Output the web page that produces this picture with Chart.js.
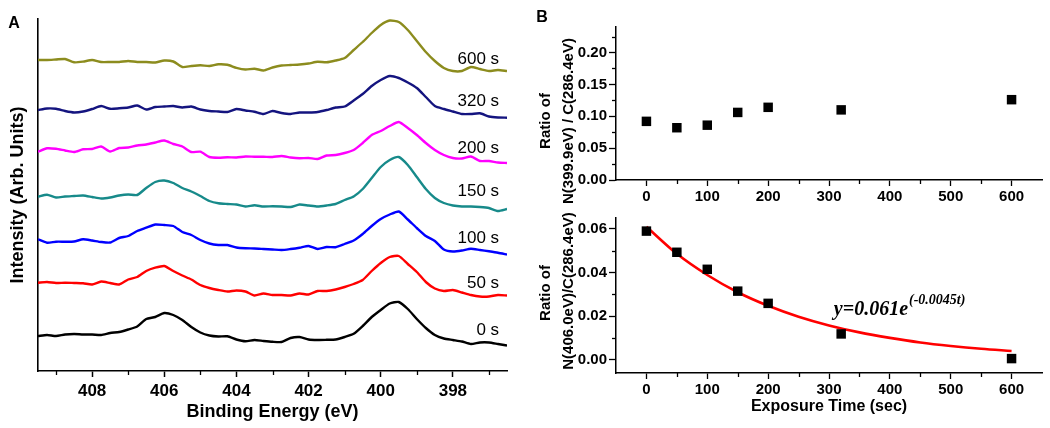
<!DOCTYPE html>
<html><head><meta charset="utf-8">
<script src="https://cdn.jsdelivr.net/npm/chart.js@4.4.1/dist/chart.umd.min.js"></script>
<style>
html,body{margin:0;padding:0;background:#fff;}
#wrap{position:relative;width:1050px;height:428px;overflow:hidden;background:#fff;}
canvas{position:absolute;display:block;}
</style></head><body>
<div id="wrap">
<canvas id="cA" width="530" height="428" style="left:0;top:0"></canvas>
<canvas id="cB1" width="520" height="215" style="left:530px;top:0"></canvas>
<canvas id="cB2" width="520" height="228" style="left:530px;top:200px"></canvas>
</div>
<script>
// ---------- Panel A data (binding energy grid, eV) ----------
const energy = [409.5,409.25,409.0,408.75,408.5,408.25,408.0,407.75,407.5,407.25,407.0,406.75,406.5,406.25,406.0,405.75,405.5,405.25,405.0,404.75,404.5,404.25,404.0,403.75,403.5,403.25,403.0,402.75,402.5,402.25,402.0,401.75,401.5,401.25,401.0,400.75,400.5,400.25,400.0,399.75,399.5,399.25,399.0,398.75,398.5,398.25,398.0,397.75,397.5,397.25,397.0,396.75,396.5];
// stacked intensities (arb. units, offset included)
const spec0s = [35,36,35,36.5,37,36.5,36.5,36,38,39, 41.5,44.5,52,54,58,56,51,44,38.5,35.5, 34.5,34.7,31.5,29.7,31,30,29.2,29,33,34, 31.5,31,31.2,31.5,34,37.2,45,54,61,67.5, 69,62,52,43,36,32.5,31,29.5,27,28.5, 28.5,27,25.5];
const spec50s = [88.3,89,88,88.3,88,87.7,86.5,89.5,88,86.5, 91.5,94,100,103.3,105,100,95.5,91.5,86,83, 81,79.5,80.5,79.5,75.5,77.5,76,76,75.5,77.5, 76.5,80,80,81.5,84,87,91,100,108,114, 115,107,99,89,82.5,80,81,78.5,76,74.5, 74.5,76,75.5];
const spec100s = [131.7,128.3,129.3,129.3,129.5,131.7,130.5,129,128.5,133, 135,140,143.3,146.5,146,145,139,136,131,127.5, 126,126,123.5,122.7,122.5,122,121.5,121,122,123.3, 125,122,124,123.8,127,130.5,137,145,152,156.5, 159.5,151.5,143,135,130,121.5,119.5,120.5,122.3,121, 119.7,118.3,116.5];
const spec150s = [174.3,176.3,173.5,174.5,175,175.5,174,172.5,173.5,175.5, 176.5,176,183,189,190.5,188,183,179.5,175,170, 167.7,167,166.5,164.5,165.7,164.5,164.7,164.5,164,166.5, 165.5,164.5,165.5,167,171,174.5,182,193,204,211, 214,206,194,182,173,168,165.5,164.5,164.5,164, 163,160,162];
const spec200s = [219.3,222.7,222.2,220.5,219,221.7,222,224.5,219.5,223, 223.5,225.5,226.5,228.5,230.5,227,224.5,219,219.3,214, 213.3,213.7,213.5,214.5,214.3,214.3,214,215,213.5,212.7, 213,212,215.5,216,218,221,228,236,240,245, 249,243,236,228,221,216,213,212.5,214.5,210, 210,208.5,208];
const spec320s = [261,262.5,262.2,260,258.5,259.5,262,265,262.2,262.7, 263.5,265.5,261.5,264,264.5,265,263.5,264.5,261.5,260, 259.5,259,262,260.5,259.3,257,260,258,257,258.5, 258.5,259,261,263.5,264.5,270.5,277,285,291,295, 293,288.5,283,274,265,262,259.5,257,257,257.7, 254.5,253.5,253.3];
const spec600s = [311,311,311.5,312,308.7,309.4,311,309,309,309, 310,309,309,308.5,310.5,309.5,304,305,305.7,305, 306.7,306.2,303.2,301.5,302.3,300.5,303.5,305.5,306,306.5, 307.5,309.2,308.7,310.5,313,321,329,338,346,350.5, 349,341,330,319,310,303,300,300,304,302, 300,301,300];
const seriesNames = ['0 s','50 s','100 s','150 s','200 s','320 s','600 s'];
const energyTicks = [398,400,402,404,406,408];
const energyMinor = [397,399,401,403,405,407,409];

// ---------- Panel B data ----------
const exposureTime = [0,50,100,150,200,320,600];
const ratioN399 = [0.092,0.082,0.086,0.106,0.114,0.110,0.126];
const ratioN406 = [0.059,0.0493,0.0415,0.0315,0.0259,0.0119,0.0006];
const fitTime = [0,50,100,150,200,250,300,350,400,450,500,550,600];
const fitRatio = [0.061,0.0486,0.0389,0.0310,0.0248,0.0198,0.0158,0.0126,0.0101,0.0080,0.0064,0.0051,0.0041];
const timeTicks = [0,100,200,300,400,500,600];
const timeMinor = [50,150,250,350,450,550];
const ratioTopTicks = [0,0.05,0.10,0.15,0.20];
const ratioTopMinor = [0.025,0.075,0.125,0.175,0.225];
const ratioBotTicks = [0,0.02,0.04,0.06];
const ratioBotMinor = [0.01,0.03,0.05];

Chart.defaults.color = '#000';
Chart.defaults.font.family = '"Liberation Sans", Arial, sans-serif';
Chart.defaults.animation = false;

const SANS = '"Liberation Sans", Arial, sans-serif';
const SERIF = '"Liberation Serif", "Times New Roman", serif';

const decor = {
  id: 'decor',
  afterDraw(chart, args, opts) {
    const ctx = chart.ctx;
    (opts.minor || []).forEach(m => {
      const s = chart.scales[m.axis];
      ctx.save();
      ctx.strokeStyle = '#000'; ctx.lineWidth = 1.3;
      m.values.forEach(v => {
        const p = Math.round(s.getPixelForValue(v)) + 0.5;
        ctx.beginPath();
        if (s.isHorizontal()) { ctx.moveTo(p, s.top); ctx.lineTo(p, s.top + m.len); }
        else { ctx.moveTo(s.right - m.len, p); ctx.lineTo(s.right, p); }
        ctx.stroke();
      });
      ctx.restore();
    });
    (opts.texts || []).forEach(t => {
      ctx.save();
      ctx.font = t.font; ctx.fillStyle = t.color || '#000';
      ctx.textAlign = t.align || 'center'; ctx.textBaseline = t.baseline || 'middle';
      let x = t.x, y = t.y;
      if (t.dataX !== undefined) x = chart.scales.x.getPixelForValue(t.dataX);
      if (t.dataY !== undefined) y = chart.scales.y.getPixelForValue(t.dataY);
      ctx.translate(x, y);
      if (t.rotate) ctx.rotate(-Math.PI / 2);
      ctx.fillText(t.text, 0, 0);
      if (t.sup) {
        const w = ctx.measureText(t.text).width;
        ctx.font = t.supFont;
        ctx.fillText(t.sup, w + 1, -t.supRise);
      }
      ctx.restore();
    });
  }
};

function fixedWidth(w) { return s => { s.width = w; }; }
function fixedHeight(h) { return s => { s.height = h; }; }
function setTicks(vals) { return s => { s.ticks = vals.map(v => ({value: v})); }; }

// ---------- Panel A ----------
const colorsA = ['#000000','#ff0000','#0000ff','#178a8a','#ff00ff','#14147f','#8c8c1e'];
const specs = [spec0s, spec50s, spec100s, spec150s, spec200s, spec320s, spec600s];
const labelYA = [41, 88, 133, 180, 223, 270, 312];

new Chart(document.getElementById('cA'), {
  type: 'line',
  data: {
    datasets: specs.map((s, i) => ({
      label: seriesNames[i],
      data: energy.map((e, k) => ({x: e, y: s[k]})),
      borderColor: colorsA[i], borderWidth: 2.4, pointRadius: 0, tension: 0.2, fill: false
    }))
  },
  options: {
    responsive: false, animation: false,
    layout: {padding: {top: 19, right: 23, left: 0, bottom: 0}},
    plugins: {
      legend: {display: false}, tooltip: {enabled: false},
      decor: {
        minor: [{axis: 'x', values: energyMinor, len: 4}],
        texts: seriesNames.map((n, i) => ({text: n, dataX: 396.72, dataY: labelYA[i], align: 'right', font: '17px ' + SANS}))
          .concat([{text: 'A', x: 14, y: 24, font: 'bold 16px ' + SANS}])
      }
    },
    scales: {
      x: {
        type: 'linear', min: 396.5, max: 409.5, reverse: true,
        afterFit: fixedHeight(57), afterBuildTicks: setTicks(energyTicks),
        ticks: {font: {size: 17, weight: 'bold'}, padding: 4, autoSkip: false, maxRotation: 0},
        grid: {display: true, drawOnChartArea: false, drawTicks: true, tickLength: 6, tickColor: '#000', tickWidth: 1.5},
        border: {display: true, color: '#000', width: 1.6},
        title: {display: true, text: 'Binding Energy (eV)', font: {size: 18, weight: 'bold'}, padding: {top: 0, bottom: 5}}
      },
      y: {
        type: 'linear', min: 0, max: 352,
        afterFit: fixedWidth(38),
        ticks: {display: false},
        grid: {display: false},
        border: {display: true, color: '#000', width: 1.6},
        title: {display: true, text: 'Intensity (Arb. Units)', font: {size: 18, weight: 'bold'}, padding: {top: 7, bottom: 0}}
      }
    }
  },
  plugins: [decor]
});

// ---------- Panel B common ----------
function bScales(yMin, yMax, yTicks, xHeight, xTitle) {
  return {
    x: {
      type: 'linear', min: -50, max: 650,
      afterFit: fixedHeight(xHeight), afterBuildTicks: setTicks(timeTicks),
      ticks: {font: {size: 15, weight: 'bold'}, padding: 2, autoSkip: false, maxRotation: 0, callback: v => String(v)},
      grid: {display: true, drawOnChartArea: false, drawTicks: true, tickLength: 6, tickColor: '#000', tickWidth: 1.3},
      border: {display: true, color: '#000', width: 1.5},
      title: xTitle ? {display: true, text: xTitle, font: {size: 16, weight: 'bold'}, padding: {top: 0, bottom: 12}} : {display: false}
    },
    y: {
      type: 'linear', min: yMin, max: yMax,
      afterFit: fixedWidth(86), afterBuildTicks: setTicks(yTicks),
      ticks: {font: {size: 15, weight: 'bold'}, padding: 2, autoSkip: false, callback: v => v.toFixed(2)},
      grid: {display: true, drawOnChartArea: false, drawTicks: true, tickLength: 7, tickColor: '#000', tickWidth: 1.3},
      border: {display: true, color: '#000', width: 1.5},
      title: {display: false}
    }
  };
}
const pointStyleB = {pointStyle: 'rect', pointRadius: 6.7, pointHoverRadius: 6.7, backgroundColor: '#000', borderWidth: 0, showLine: false};

// ---------- Panel B top ----------
new Chart(document.getElementById('cB1'), {
  type: 'scatter',
  data: {datasets: [Object.assign({label: 'N399.9/C286.4', data: exposureTime.map((t, i) => ({x: t, y: ratioN399[i]}))}, pointStyleB)]},
  options: {
    responsive: false, animation: false,
    layout: {padding: {top: 27, right: 8, left: 0, bottom: 0}},
    plugins: {
      legend: {display: false}, tooltip: {enabled: false},
      decor: {
        minor: [{axis: 'x', values: timeMinor, len: 4}, {axis: 'y', values: ratioTopMinor, len: 4}],
        texts: [
          {text: 'Ratio of', x: 16, y: 121, rotate: true, font: 'bold 15px ' + SANS},
          {text: 'N(399.9eV) / C(286.4eV)', x: 39, y: 121, rotate: true, font: 'bold 15px ' + SANS},
          {text: 'B', x: 12, y: 17.5, font: 'bold 16px ' + SANS}
        ]
      }
    },
    scales: bScales(0, 0.24, ratioTopTicks, 35, null)
  },
  plugins: [decor]
});

// ---------- Panel B bottom ----------
new Chart(document.getElementById('cB2'), {
  type: 'scatter',
  data: {datasets: [
    Object.assign({label: 'N406.0/C286.4', data: exposureTime.map((t, i) => ({x: t, y: ratioN406[i]}))}, pointStyleB),
    {type: 'line', label: 'fit', data: fitTime.map((t, i) => ({x: t, y: fitRatio[i]})), borderColor: '#ff0000', borderWidth: 2.6, pointRadius: 0, cubicInterpolationMode: 'monotone', showLine: true, fill: false}
  ]},
  options: {
    responsive: false, animation: false,
    layout: {padding: {top: 18, right: 8, left: 0, bottom: 0}},
    plugins: {
      legend: {display: false}, tooltip: {enabled: false},
      decor: {
        minor: [{axis: 'x', values: timeMinor, len: 4}, {axis: 'y', values: ratioBotMinor, len: 4}],
        texts: [
          {text: 'Ratio of', x: 16, y: 93, rotate: true, font: 'bold 15px ' + SANS},
          {text: 'N(406.0eV)/C(286.4eV)', x: 39, y: 91, rotate: true, font: 'bold 15px ' + SANS},
          {text: 'y=0.061e', dataX: 308, dataY: 0.0207, align: 'left', baseline: 'alphabetic', font: 'italic bold 20px ' + SERIF,
           sup: '(-0.0045t)', supFont: 'italic bold 14px ' + SERIF, supRise: 11}
        ]
      }
    },
    scales: bScales(-0.006, 0.065, ratioBotTicks, 55, 'Exposure Time (sec)')
  },
  plugins: [decor]
});
</script>
</body></html>
